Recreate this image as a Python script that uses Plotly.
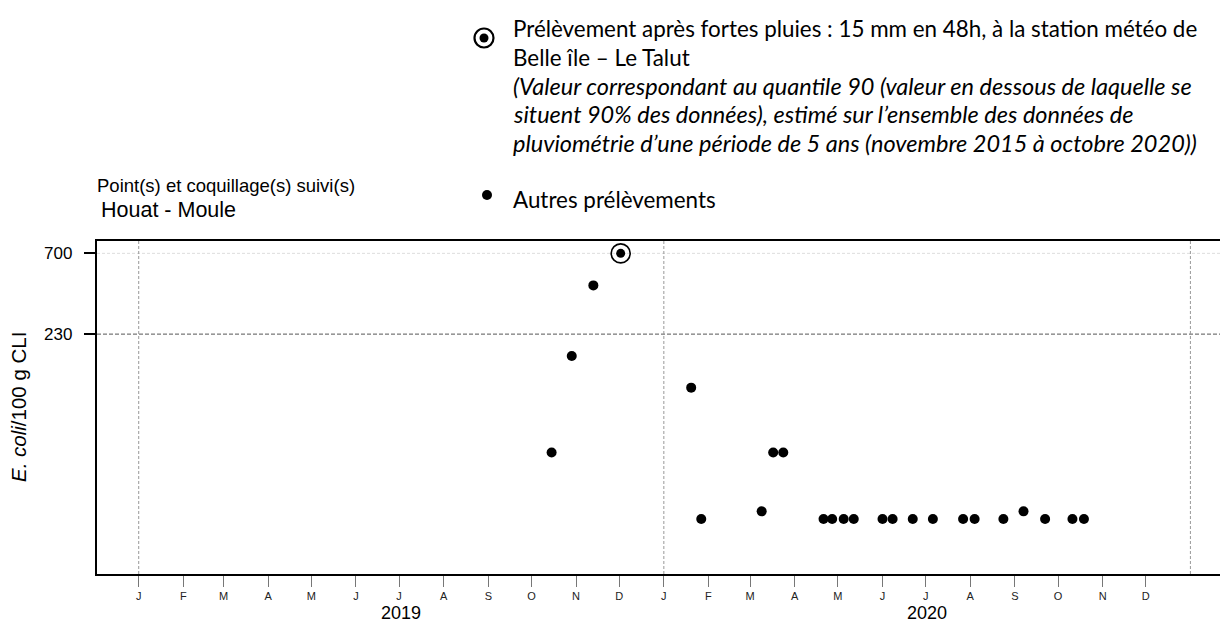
import math
import plotly.graph_objects as go

# ---------------- data ----------------
rain_dates = ["2019-12-02"]
rain_values = [700]

other_dates = ["2019-10-15", "2019-10-29", "2019-11-13",
               "2020-01-20", "2020-01-27", "2020-03-09", "2020-03-17", "2020-03-24",
               "2020-04-21", "2020-04-27", "2020-05-05", "2020-05-12",
               "2020-06-01", "2020-06-08", "2020-06-22", "2020-07-06",
               "2020-07-27", "2020-08-04", "2020-08-24", "2020-09-07",
               "2020-09-22", "2020-10-11", "2020-10-19"]
other_values = [45, 170, 450,
                110, 18, 20, 45, 45,
                18, 18, 18, 18,
                18, 18, 18, 18,
                18, 18, 18, 20,
                18, 18, 18]

month_ticks = [f"{y}-{m:02d}-01" for y in (2019, 2020) for m in range(1, 13)]
month_labels = ["J", "F", "M", "A", "M", "J", "J", "A", "S", "O", "N", "D"] * 2
year_labels = ["2019", "2020"]
year_centers = ["2019-07-02", "2020-07-02"]
year_starts = ["2019-01-01", "2020-01-01", "2021-01-01"]
y_ticks = [230, 700]
y_tick_labels = ["230", "700"]
threshold_line = 230
upper_line = 700

x_range = ["2018-12-03 00:15", "2021-01-21 13:30"]
y_log_range = [0.926, 2.919]
y_lo, y_hi = 10 ** y_log_range[0], 10 ** y_log_range[1]

# ---------------- layout geometry ----------------
W, H = 1220, 626
L, R, T, B = 97, 0, 241, 52
pw, ph = W - L - R, H - T - B


def px_x(px):
    return (px - L) / pw


def px_y(py):
    return (H - B - py) / ph


FONT = "Liberation Sans, Arial, sans-serif"
LFONT = "Lato, Open Sans, sans-serif"

fig = go.Figure()

# reference lines
fig.add_trace(go.Scatter(x=x_range, y=[upper_line, upper_line], mode="lines",
                         line=dict(color="#dddddd", width=1, dash="3px,2px"),
                         hoverinfo="skip", showlegend=False))
fig.add_trace(go.Scatter(x=x_range, y=[threshold_line, threshold_line], mode="lines",
                         line=dict(color="#555555", width=1, dash="4px,2px"),
                         hoverinfo="skip", showlegend=False))
for d in year_starts:
    fig.add_trace(go.Scatter(x=[d, d], y=[y_lo, y_hi], mode="lines",
                             line=dict(color="#999999", width=1, dash="3px,2px"),
                             hoverinfo="skip", showlegend=False))

# data points
fig.add_trace(go.Scatter(x=other_dates, y=other_values, mode="markers",
                         marker=dict(color="black", size=10, line=dict(width=0)),
                         showlegend=False))
fig.add_trace(go.Scatter(x=rain_dates, y=rain_values, mode="markers",
                         marker=dict(color="black", size=9, line=dict(width=0)),
                         showlegend=False))
fig.add_trace(go.Scatter(x=rain_dates, y=rain_values, mode="markers",
                         marker=dict(symbol="circle-open", color="black", size=19,
                                     line=dict(width=1.6, color="black")),
                         showlegend=False))

# axes
fig.update_xaxes(type="date", range=x_range, tickvals=month_ticks, ticktext=month_labels,
                 ticks="outside", ticklen=11, tickcolor="#777777", tickwidth=1,
                 tickfont=dict(family=FONT, size=11, color="#222222"),
                 showgrid=False, zeroline=False, showline=True, linecolor="black",
                 linewidth=2, mirror=True)
fig.update_yaxes(type="log", range=y_log_range, tickvals=y_ticks, ticktext=y_tick_labels,
                 ticks="outside", ticklen=11, tickcolor="black", tickwidth=1.5,
                 showticklabels=False,
                 showgrid=False, zeroline=False, showline=True, linecolor="black",
                 linewidth=2, mirror=False)

ann = []
# y tick labels (log axis: annotation positions given in log10 units)
for v, lab in zip(y_ticks, y_tick_labels):
    ann.append(dict(x=px_x(74), xref="paper", y=math.log10(v), yref="y", text=lab,
                    showarrow=False, font=dict(family=FONT, size=17, color="black"),
                    xanchor="right", yanchor="middle"))
# year labels
for lab, c in zip(year_labels, year_centers):
    ann.append(dict(x=c, xref="x", y=px_y(613), yref="paper", text=lab, showarrow=False,
                    font=dict(family=FONT, size=18, color="black"),
                    xanchor="center", yanchor="middle"))
# y-axis title
ann.append(dict(x=px_x(18), xref="paper", y=px_y(407), yref="paper",
                text="<i>E. coli</i>/100 g CLI", textangle=-90, showarrow=False,
                font=dict(family=FONT, size=20.5, color="black"),
                xanchor="center", yanchor="middle"))
# header texts
ann.append(dict(x=px_x(95), xref="paper", y=px_y(185), yref="paper",
                text="Point(s) et coquillage(s) suivi(s)", showarrow=False,
                font=dict(family=FONT, size=18.5, color="black"),
                xanchor="left", yanchor="middle"))
ann.append(dict(x=px_x(99), xref="paper", y=px_y(210), yref="paper",
                text="Houat - Moule", showarrow=False,
                font=dict(family=FONT, size=21.5, color="black"),
                xanchor="left", yanchor="middle"))
# legend texts
legend_lines = [
    ("Prélèvement après fortes pluies : 15 mm en 48h, à la station météo de", 28, False),
    ("Belle île – Le Talut", 57, False),
    ("(Valeur correspondant au quantile 90 (valeur en dessous de laquelle se", 86, True),
    ("situent 90% des données), estimé sur l’ensemble des données de", 114, True),
    ("pluviométrie d’une période de 5 ans (novembre 2015 à octobre 2020))", 143, True),
    ("Autres prélèvements", 199, False),
]
for txt, yy, it in legend_lines:
    ann.append(dict(x=px_x(511), xref="paper", y=px_y(yy), yref="paper",
                    text=f"<i>{txt}</i>" if it else txt, showarrow=False,
                    font=dict(family=LFONT, size=23.5 if it else 22.4, color="black"),
                    xanchor="left", yanchor="middle"))

# legend symbols (pixel-sized shapes)
def circ(cx, cy, r, fill, lw):
    return dict(type="circle", xref="paper", yref="paper", xsizemode="pixel", ysizemode="pixel",
                xanchor=px_x(cx), yanchor=px_y(cy), x0=-r, x1=r, y0=-r, y1=r,
                fillcolor=fill, line=dict(color="black", width=lw))

shapes = [circ(484, 38, 9.5, "rgba(0,0,0,0)", 2.2), circ(484, 38, 4.5, "black", 0),
          circ(487, 195, 5, "black", 0)]

fig.update_layout(width=W, height=H, margin=dict(l=L, r=R, t=T, b=B),
                  plot_bgcolor="white", paper_bgcolor="white",
                  annotations=ann, shapes=shapes, showlegend=False)

fig.write_html("out.html", config={"displayModeBar": False},
               post_script="document.body.style.margin='0px';document.body.style.overflow='hidden';")
